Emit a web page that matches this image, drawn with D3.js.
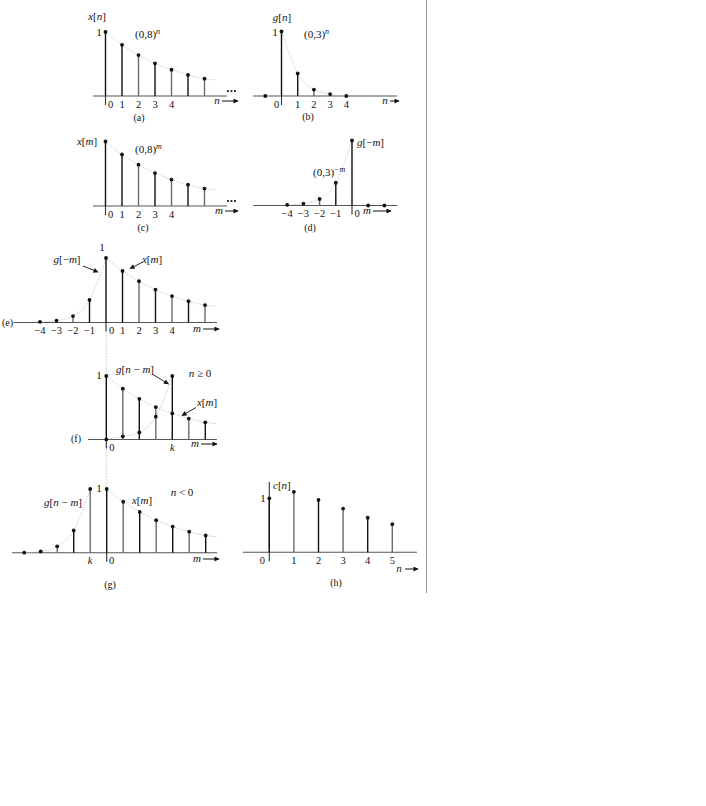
<!DOCTYPE html>
<html>
<head>
<meta charset="utf-8">
<script src="https://cdn.jsdelivr.net/npm/d3@7"></script>
<style>
  body { margin: 0; background: #fff; }
  svg, svg text { font-family: "Liberation Serif", "Times New Roman", Times, serif; fill: #111; }
</style>
</head>
<body>
<div id="chart"></div>
<script>
// ---- data ----
// x[n] = (0,8)^n
var nX = [0, 1, 2, 3, 4, 5, 6];
var xVals = [1, 0.8, 0.64, 0.51, 0.41, 0.33, 0.27];
var xTail = [6.7, 0.25];            // where the dotted envelope stops

// g[n] = (0,3)^n  (panel b)
var nG = [-1, 0, 1, 2, 3, 4];
var gVals = [0, 1, 0.35, 0.1, 0.03, 0];

// g[-m]  (panel d, left half of e)
var mGr = [-4, -3, -2, -1, 0, 1, 2];
var gRevVals = [0.01, 0.03, 0.1, 0.35, 1, 0, 0];

// g[n-m] with n = k = 4  (panel f)
var mF = [0, 1, 2, 3, 4];
var gShiftF = [0, 0.05, 0.11, 0.36, 1];

// g[n-m] with n = k = -1  (panel g)
var mGg = [-5, -4, -3, -2, -1];
var gShiftG = [0, 0.02, 0.1, 0.35, 1];

// c[n]  (panel h)
var nC = [0, 1, 2, 3, 4, 5];
var cVals = [1, 1.12, 0.97, 0.81, 0.64, 0.52];

// tick labels
var ticksPos = ["0", "1", "2", "3", "4"];
var ticksNeg = ["\u22124", "\u22123", "\u22122", "\u22121"];
var ticksC = ["0", "1", "2", "3", "4", "5"];

// ---- svg ----
var svg = d3.select("#chart").append("svg")
    .attr("width", 706)
    .attr("height", 806)
    .attr("font-family", "'Liberation Serif', 'Times New Roman', serif");

var defs = svg.append("defs");
defs.append("marker")
    .attr("id", "head")
    .attr("viewBox", "0 0 10 10")
    .attr("refX", 9).attr("refY", 5)
    .attr("markerWidth", 7).attr("markerHeight", 5)
    .attr("markerUnits", "userSpaceOnUse")
    .attr("orient", "auto")
    .append("path")
    .attr("d", "M0,0 L10,5 L0,10 z")
    .attr("fill", "#111");

// separator on the right
svg.append("line")
    .attr("x1", 426.5).attr("x2", 426.5)
    .attr("y1", 0).attr("y2", 593)
    .attr("stroke", "#999").attr("stroke-width", 1);

// light dotted line joining panels e, f, g at m = 0
svg.append("line")
    .attr("x1", 106.3).attr("x2", 106.3)
    .attr("y1", 326).attr("y2", 487)
    .attr("stroke", "#bbb").attr("stroke-width", 0.8)
    .attr("stroke-dasharray", "1.5,1.5");

// builds one panel's scales and baseline
function panel(o) {
    var p = {};
    p.x = d3.scaleLinear().domain([0, 1]).range([o.x0, o.x0 + o.step]);
    p.y = d3.scaleLinear().domain([0, 1]).range([o.axisY, o.axisY - o.unit]);
    p.g = svg.append("g");
    p.g.append("line")
        .attr("x1", p.x(o.lo)).attr("x2", p.x(o.hi))
        .attr("y1", o.axisY).attr("y2", o.axisY)
        .attr("stroke", "#555").attr("stroke-width", 1.1);
    // the m = 0 / n = 0 line runs a little below the axis
    p.g.append("line")
        .attr("x1", p.x(0)).attr("x2", p.x(0))
        .attr("y1", o.axisY).attr("y2", o.axisY + 9)
        .attr("stroke", "#333").attr("stroke-width", 1.1);
    p.axisY = o.axisY;
    return p;
}

function stems(p, idx, vals, dark) {
    var data = idx.map(function (d, i) { return { i: d, v: vals[i] }; });
    p.g.selectAll(null)
        .data(data.filter(function (d) { return d.v > 0; }))
        .enter().append("line")
        .attr("x1", function (d) { return p.x(d.i); })
        .attr("x2", function (d) { return p.x(d.i); })
        .attr("y1", p.y(0))
        .attr("y2", function (d) { return p.y(d.v); })
        .attr("stroke", function (d) {
            return (Math.abs(d.i) % 2 === dark || d.i === 0) ? "#111" : "#6a6a6a";
        })
        .attr("stroke-width", 1.4);
}

function dots(p, idx, vals) {
    p.g.selectAll(null)
        .data(idx.map(function (d, i) { return { i: d, v: vals[i] }; }))
        .enter().append("circle")
        .attr("cx", function (d) { return p.x(d.i); })
        .attr("cy", function (d) { return p.y(d.v); })
        .attr("r", 1.9)
        .attr("fill", "#111");
}

function envelope(p, pts) {
    var line = d3.line()
        .x(function (d) { return p.x(d[0]); })
        .y(function (d) { return p.y(d[1]); })
        .curve(d3.curveMonotoneX);
    p.g.append("path")
        .attr("d", line(pts))
        .attr("fill", "none")
        .attr("stroke", "#bbb")
        .attr("stroke-width", 0.8)
        .attr("stroke-dasharray", "1.2,1.2");
}

function pairs(idx, vals) {
    return idx.map(function (d, i) { return [d, vals[i]]; });
}

// tick labels: values and their text
function ticks(p, idx, labels, zeroShift) {
    p.g.selectAll(null)
        .data(idx.map(function (d, i) { return { i: d, t: labels[i] }; }))
        .enter().append("text")
        .attr("x", function (d) { return p.x(d.i) + (d.i === 0 ? zeroShift : 0); })
        .attr("y", p.axisY + 11.5)
        .attr("text-anchor", "middle")
        .attr("font-size", 10.5)
        .text(function (d) { return d.t; });
}

// rich text: parts = [[text, style]] style: "i" italic, "s" superscript, "si" superscript italic
function rich(x, y, parts, anchor, size) {
    var t = svg.append("text")
        .attr("x", x).attr("y", y)
        .attr("text-anchor", anchor || "middle")
        .attr("font-size", size || 11);
    parts.forEach(function (pt) {
        var s = t.append("tspan").text(pt[0]);
        if (pt[1] && pt[1].indexOf("i") >= 0) s.attr("font-style", "italic");
        if (pt[1] && pt[1].indexOf("s") >= 0) s.attr("baseline-shift", "super").attr("font-size", 8);
    });
    return t;
}

function arrowRight(x1, x2, y) {
    svg.append("line")
        .attr("x1", x1).attr("x2", x2).attr("y1", y).attr("y2", y)
        .attr("stroke", "#111").attr("stroke-width", 1)
        .attr("marker-end", "url(#head)");
}

function pointer(x1, y1, x2, y2) {
    svg.append("line")
        .attr("x1", x1).attr("y1", y1).attr("x2", x2).attr("y2", y2)
        .attr("stroke", "#111").attr("stroke-width", 0.9)
        .attr("marker-end", "url(#head)");
}

function ellipsis(x, y) {
    [0, 3.5, 7].forEach(function (dx) {
        svg.append("circle").attr("cx", x + dx).attr("cy", y).attr("r", 1.1).attr("fill", "#111");
    });
}

// ---- (a) x[n] ----
var pa = panel({ x0: 105.5, step: 16.5, axisY: 96, unit: 64, lo: -0.76, hi: 7.36 });
envelope(pa, pairs(nX, xVals).concat([xTail]));
stems(pa, nX, xVals, 1);
dots(pa, nX, xVals);
ticks(pa, [0, 1, 2, 3, 4], ticksPos, 5);
rich(97, 20, [["x", "i"], ["["], ["n", "i"], ["]"]]);
rich(99, 35.5, [["1"]]);
rich(135, 38, [["(0,8)"], ["n", "si"]], "start");
ellipsis(228, 91);
rich(217, 104, [["n", "i"]]);
arrowRight(222, 238, 101);
rich(139, 121, [["(a)"]], "middle", 10);

// ---- (b) g[n] ----
var pb = panel({ x0: 281.5, step: 16.2, axisY: 96, unit: 64.5, lo: -1.76, hi: 7.13 });
envelope(pb, pairs(nG.slice(1), gVals.slice(1)));
stems(pb, nG, gVals, 1);
dots(pb, nG, gVals);
ticks(pb, [0, 1, 2, 3, 4], ticksPos, -5);
rich(282, 21, [["g", "i"], ["["], ["n", "i"], ["]"]]);
rich(275, 35.5, [["1"]]);
rich(304, 38, [["(0,3)"], ["n", "si"]], "start");
rich(385, 104, [["n", "i"]]);
arrowRight(390, 399, 101);
rich(308, 120, [["(b)"]], "middle", 10);

// ---- (c) x[m] ----
var pc = panel({ x0: 105.5, step: 16.5, axisY: 206, unit: 64.5, lo: -0.76, hi: 7.36 });
envelope(pc, pairs(nX, xVals).concat([xTail]));
stems(pc, nX, xVals, 1);
dots(pc, nX, xVals);
ticks(pc, [0, 1, 2, 3, 4], ticksPos, 5);
rich(87, 145, [["x", "i"], ["["], ["m", "i"], ["]"]]);
rich(135, 153, [["(0,8)"], ["m", "si"]], "start");
ellipsis(228, 201);
rich(219, 214, [["m", "i"]]);
arrowRight(225, 238, 211);
rich(143, 231, [["(c)"]], "middle", 10);

// ---- (d) g[-m] ----
var pd = panel({ x0: 352, step: 16.2, axisY: 205.5, unit: 65, lo: -6.1, hi: 2.8 });
envelope(pd, pairs(mGr.slice(0, 5), gRevVals.slice(0, 5)));
stems(pd, mGr, gRevVals, 1);
dots(pd, mGr, gRevVals);
ticks(pd, [-4, -3, -2, -1, 0], ticksNeg.concat(["0"]), 5);
rich(357, 146, [["g", "i"], ["[\u2212"], ["m", "i"], ["]"]], "start");
rich(313, 176, [["(0,3)"], ["\u2212m", "si"]], "start");
rich(367, 214, [["m", "i"]]);
arrowRight(373, 391, 211);
rich(310, 231, [["(d)"]], "middle", 10);

// ---- (e) g[-m] and x[m] together ----
var pe = panel({ x0: 106, step: 16.5, axisY: 322.5, unit: 64.5, lo: -5.6, hi: 6.73 });
envelope(pe, pairs(mGr.slice(0, 5), gRevVals.slice(0, 5)));
envelope(pe, pairs(nX, xVals).concat([xTail]));
stems(pe, mGr.slice(0, 4), gRevVals.slice(0, 4), 1);
stems(pe, nX, xVals, 1);
dots(pe, mGr.slice(0, 4), gRevVals.slice(0, 4));
dots(pe, nX, xVals);
ticks(pe, [-4, -3, -2, -1, 0, 1, 2, 3, 4], ticksNeg.concat(ticksPos), 5.5);
rich(102, 251, [["1"]]);
rich(67, 263, [["g", "i"], ["[\u2212"], ["m", "i"], ["]"]]);
pointer(83, 266, 98, 272);
rich(152, 263, [["x", "i"], ["["], ["m", "i"], ["]"]]);
pointer(143, 262, 130, 268.5);
rich(197, 332, [["m", "i"]]);
arrowRight(203, 219, 329);
rich(7.5, 326, [["(e)"]], "middle", 10);

// ---- (f) n >= 0 ----
var pf = panel({ x0: 106.3, step: 16.5, axisY: 439.5, unit: 63.5, lo: -1.1, hi: 6.7 });
envelope(pf, pairs(nX, xVals).concat([xTail]));
envelope(pf, pairs(mF, gShiftF));
var topF = nX.map(function (m, i) {
    var j = mF.indexOf(m);
    return j >= 0 ? Math.max(xVals[i], gShiftF[j]) : xVals[i];
});
stems(pf, nX, topF, 0);
dots(pf, nX, xVals);
dots(pf, mF, gShiftF);
ticks(pf, [0, 4], ["0", "k"], 5.5);
pf.g.selectAll("text").filter(function (d) { return d.t === "k"; }).attr("font-style", "italic");
rich(99, 379, [["1"]]);
rich(135, 373, [["g", "i"], ["["], ["n", "i"], [" \u2212 "], ["m", "i"], ["]"]]);
pointer(153, 374.5, 168.5, 384);
rich(200, 377, [["n", "i"], [" \u2265 0"]]);
rich(207, 406, [["x", "i"], ["["], ["m", "i"], ["]"]]);
pointer(196, 407.5, 182, 415.5);
rich(195, 447, [["m", "i"]]);
arrowRight(201, 217, 444);
rich(76, 442, [["(f)"]], "middle", 10);

// ---- (g) n < 0 ----
var pg = panel({ x0: 106.7, step: 16.5, axisY: 552.7, unit: 63.7, lo: -5.74, hi: 6.7 });
envelope(pg, pairs(mGg, gShiftG));
envelope(pg, pairs(nX, xVals).concat([xTail]));
stems(pg, mGg, gShiftG, 0);
stems(pg, nX, xVals, 0);
dots(pg, mGg, gShiftG);
dots(pg, nX, xVals);
ticks(pg, [-1, 0], ["k", "0"], 5);
pg.g.selectAll("text").filter(function (d) { return d.t === "k"; }).attr("font-style", "italic");
rich(99, 492, [["1"]]);
rich(63, 506, [["g", "i"], ["["], ["n", "i"], [" \u2212 "], ["m", "i"], ["]"]]);
rich(142, 504, [["x", "i"], ["["], ["m", "i"], ["]"]]);
rich(182, 496, [["n", "i"], [" < 0"]]);
rich(197, 562, [["m", "i"]]);
arrowRight(203, 219, 559);
rich(110, 588, [["(g)"]], "middle", 10);

// ---- (h) c[n] ----
var ph = panel({ x0: 269.3, step: 24.6, axisY: 552.3, unit: 54, lo: -1.07, hi: 6.0 });
ph.g.append("line")
    .attr("x1", ph.x(0)).attr("x2", ph.x(0))
    .attr("y1", ph.y(1.3)).attr("y2", ph.y(0))
    .attr("stroke", "#333").attr("stroke-width", 1.1);
stems(ph, nC, cVals, 0);
dots(ph, nC, cVals);
ticks(ph, nC, ticksC, -7);
rich(273, 489, [["c", "i"], ["["], ["n", "i"], ["]"]], "start");
rich(263, 501.5, [["1"]]);
rich(399, 572, [["n", "i"]]);
arrowRight(405, 418, 569);
rich(336, 586, [["(h)"]], "middle", 10);
</script>
</body>
</html>
